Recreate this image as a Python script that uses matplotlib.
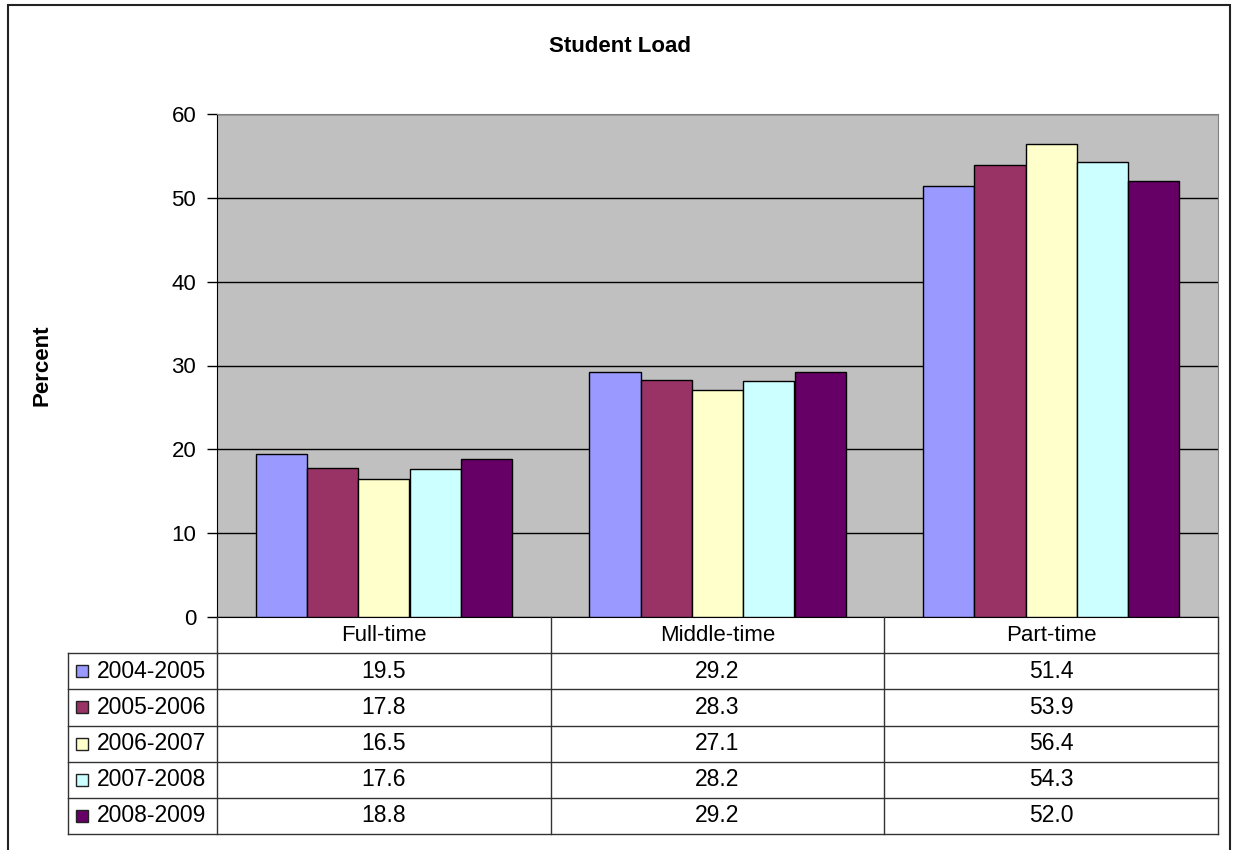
import matplotlib
matplotlib.use("Agg")
import matplotlib.pyplot as plt
from matplotlib.patches import Rectangle

plt.rcParams['font.family'] = ['Liberation Sans', 'DejaVu Sans']

categories = ['Full-time', 'Middle-time', 'Part-time']
years = ['2004-2005', '2005-2006', '2006-2007', '2007-2008', '2008-2009']
v2004 = [19.5, 29.2, 51.4]
v2005 = [17.8, 28.3, 53.9]
v2006 = [16.5, 27.1, 56.4]
v2007 = [17.6, 28.2, 54.3]
v2008 = [18.8, 29.2, 52.0]
colors = ['#9999FF', '#993366', '#FFFFCC', '#CCFFFF', '#660066']
series = [v2004, v2005, v2006, v2007, v2008]

W, H = 1235, 850
FS = 16


def box(l, t, r, b):
    return [l / W, 1 - b / H, (r - l) / W, (b - t) / H]


fig = plt.figure(figsize=(W / 100, H / 100), dpi=100)

# outer chart frame
fig.patches.append(Rectangle((8 / W, -0.05), (1230 - 8) / W, 1 - 5 / H + 0.05,
                             transform=fig.transFigure, fill=False,
                             edgecolor='#222222', linewidth=1.5))

ax = fig.add_axes(box(217, 114, 1218, 617))
ax.set_facecolor('#C0C0C0')
n = len(series)
w = 1 / (n + 1.5)
for j, vals in enumerate(series):
    xs = [i + (j - (n - 1) / 2) * w for i in range(len(categories))]
    ax.bar(xs, vals, width=w, color=colors[j], edgecolor='black', linewidth=1, zorder=3)

ax.set_xlim(-0.5, 2.5)
ax.set_ylim(0, 60)
ax.set_yticks(range(0, 61, 10))
ax.set_xticks([])
ax.tick_params(axis='y', labelsize=FS, length=7, width=1, direction='out', pad=8)
ax.grid(axis='y', color='black', linewidth=1, zorder=1)
for s in ['top', 'right']:
    ax.spines[s].set_color('#808080')
ax.spines['left'].set_color('black')
ax.spines['bottom'].set_color('black')

fig.text(620 / W, 1 - 47 / H, 'Student Load', ha='center', va='center',
         fontsize=FS, fontweight='bold')
fig.text(42 / W, 1 - 365 / H, 'Percent', ha='center', va='center',
         rotation=90, fontsize=FS, fontweight='bold')

# data table under the plot
tx0 = -0.5 - (217 - 68) / 334
ax_t = fig.add_axes(box(68, 617, 1218, 834))
ax_t.set_xlim(tx0, 2.5)
ax_t.set_ylim(6, 0)
ax_t.axis('off')
lc = '#333333'
# header row
for k in range(4):
    ax_t.plot([k - 0.5, k - 0.5], [0, 1], color=lc, lw=1, clip_on=False)
for i, c in enumerate(categories):
    ax_t.text(i, 0.5, c, ha='center', va='center', fontsize=FS)
# body rows
for r in range(1, 7):
    ax_t.plot([tx0, 2.5], [r, r], color=lc, lw=1, clip_on=False)
for xv in [tx0, -0.5, 0.5, 1.5, 2.5]:
    ax_t.plot([xv, xv], [1, 6], color=lc, lw=1, clip_on=False)
sq_w = 12 / 334
sq_h = 12 * 6 / 217
for j, (yr, vals) in enumerate(zip(years, series)):
    yc = j + 1.5
    ax_t.add_patch(Rectangle((tx0 + 8 / 334, yc - sq_h / 2), sq_w, sq_h,
                             facecolor=colors[j], edgecolor='#222222', lw=1, clip_on=False))
    ax_t.text(tx0 + 29 / 334, yc, yr, ha='left', va='center', fontsize=FS + 0.5)
    for i, v in enumerate(vals):
        ax_t.text(i, yc, f'{v:.1f}', ha='center', va='center', fontsize=FS + 0.5)

fig.savefig('out.png', dpi=100)
